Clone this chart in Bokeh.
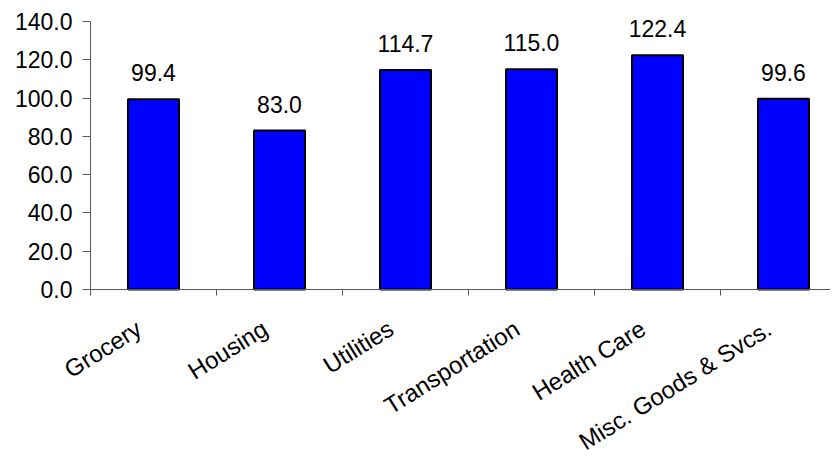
import math
from bokeh.plotting import figure
from bokeh.models import Range1d, FixedTicker, LabelSet, ColumnDataSource
from bokeh.core.properties import value
from bokeh.embed import file_html
from bokeh.resources import INLINE

categories = ["Grocery", "Housing", "Utilities", "Transportation", "Health Care", "Misc. Goods & Svcs."]
values = [99.4, 83.0, 114.7, 115.0, 122.4, 99.6]
y_ticks = [0, 20, 40, 60, 80, 100, 120, 140]

FONT = "Liberation Sans"
FS = "23px"
CAT_FS = "24px"
AXIS_COL = "#5a5a5a"

# layout (pixels); the frame covers the whole canvas, axes are pinned inside it
W, H = 830, 454
LEFT = 90             # pixel column of the value axis
ZERO_Y = 289          # pixel row of value 0
TOP_Y = 21            # pixel row of value 140
CAT_W = 126           # pixel width of one category
ppu = (ZERO_Y - TOP_Y) / y_ticks[-1]
y_lo = -(H - ZERO_Y) / ppu
y_hi = y_ticks[-1] + TOP_Y / ppu
x_lo = -LEFT / CAT_W
x_hi = (W - LEFT) / CAT_W

x_pos = [i + 0.5 for i in range(len(categories))]
labels = [f"{v:.1f}" for v in values]
src = ColumnDataSource(dict(x=x_pos, top=values, label=labels,
                            cat=categories, zero=[0] * len(categories)))

p = figure(width=W, height=H, output_backend="svg", toolbar_location=None,
           x_range=Range1d(x_lo, x_hi), y_range=Range1d(y_lo, y_hi),
           min_border_left=0, min_border_right=0, min_border_top=0, min_border_bottom=0)
p.outline_line_color = None
p.grid.visible = False
p.background_fill_color = "white"
p.border_fill_color = "white"

p.vbar(x="x", top="top", bottom=0, width=0.405, source=src,
       fill_color="#0000FF", line_color="black", line_width=2)

# value labels
p.add_layout(LabelSet(x="x", y="top", text="label", source=src, y_offset=18,
                      text_align="center", text_baseline="alphabetic",
                      text_font=value(FONT), text_font_size=FS, text_color="black"))

# rotated category labels
p.add_layout(LabelSet(x="x", y="zero", text="cat", source=src,
                      x_offset=-10, y_offset=-44, angle=math.radians(32),
                      text_align="right", text_baseline="alphabetic",
                      text_font=value(FONT), text_font_size=CAT_FS, text_color="black"))

# x axis pinned at value 0: only boundary tick marks
xa = p.xaxis[0]
xa.fixed_location = 0
xa.bounds = (0, len(categories))
xa.ticker = FixedTicker(ticks=[], minor_ticks=list(range(len(categories) + 1)))
xa.major_tick_out = 0
xa.major_tick_in = 0
xa.minor_tick_out = 6
xa.minor_tick_in = 0
xa.minor_tick_line_color = AXIS_COL
xa.axis_line_color = AXIS_COL

# y axis pinned at the first category boundary
ya = p.yaxis[0]
ya.fixed_location = 0
ya.bounds = (0, y_ticks[-1])
ya.ticker = FixedTicker(ticks=y_ticks)
ya.major_label_overrides = {t: f"{t:.1f}" for t in y_ticks}
ya.major_tick_out = 8
ya.major_tick_in = 0
ya.minor_tick_out = 0
ya.minor_tick_in = 0
ya.major_tick_line_color = AXIS_COL
ya.axis_line_color = AXIS_COL
ya.major_label_standoff = 10
ya.major_label_text_font = FONT
ya.major_label_text_font_size = FS
ya.major_label_text_color = "black"

open("out.html", "w").write(file_html(p, INLINE))
